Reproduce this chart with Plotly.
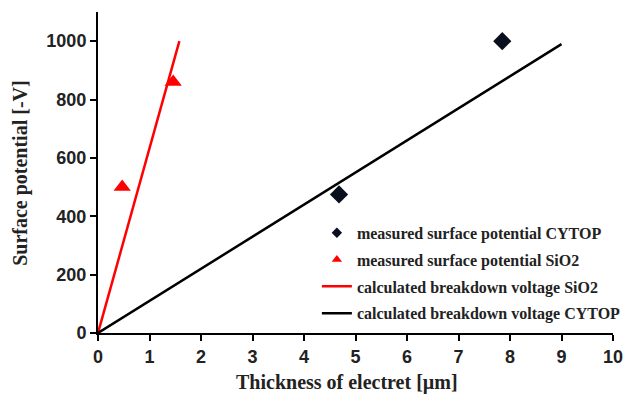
import plotly.graph_objects as go

# Measured surface potentials
cytop_thickness = [4.68, 7.85]
cytop_potential = [475, 1000]
sio2_thickness = [0.47, 1.46]
sio2_potential = [500, 860]

# Calculated breakdown voltage lines
sio2_calc_thickness = [0, 1.58]
sio2_calc_voltage = [0, 1000]
cytop_calc_thickness = [0, 9.0]
cytop_calc_voltage = [0, 990]

x_ticks = list(range(11))
y_ticks = [0, 200, 400, 600, 800, 1000]

legend_names = [
    "<b>measured surface potential CYTOP</b>",
    "<b>measured surface potential SiO2</b>",
    "<b>calculated breakdown voltage SiO2</b>",
    "<b>calculated breakdown voltage CYTOP</b>",
]

legend_font = dict(family="Liberation Serif", size=16, color="#222222")
tick_font = dict(family="Liberation Sans", size=18, color="#222222", weight="bold")
title_font = dict(family="Liberation Serif", size=20, color="#222222")

cytop_marker = dict(symbol="diamond", color="#0a0f1e")
sio2_marker = dict(symbol="triangle-up", color="#ff0000")

fig = go.Figure()
# Data traces
fig.add_trace(go.Scatter(
    x=cytop_thickness, y=cytop_potential, mode="markers", showlegend=False,
    marker=dict(size=14, **cytop_marker),
))
fig.add_trace(go.Scatter(
    x=sio2_thickness, y=sio2_potential, mode="markers", showlegend=False,
    marker=dict(size=15, **sio2_marker),
))
fig.add_trace(go.Scatter(
    x=sio2_calc_thickness, y=sio2_calc_voltage, mode="lines", showlegend=False,
    line=dict(color="#ff0000", width=2.5),
))
fig.add_trace(go.Scatter(
    x=cytop_calc_thickness, y=cytop_calc_voltage, mode="lines", showlegend=False,
    line=dict(color="#000000", width=2.5),
))

# Legend entries with small symbols
fig.add_trace(go.Scatter(x=[None], y=[None], mode="markers", name=legend_names[0],
                         legendgroup="a", marker=dict(size=8, **cytop_marker)))
fig.add_trace(go.Scatter(x=[None], y=[None], mode="markers", name=legend_names[1],
                         legendgroup="b", marker=dict(size=9, **sio2_marker)))
fig.add_trace(go.Scatter(x=[None], y=[None], mode="lines", name=legend_names[2],
                         legendgroup="c", line=dict(color="#ff0000", width=2.5)))
fig.add_trace(go.Scatter(x=[None], y=[None], mode="lines", name=legend_names[3],
                         legendgroup="d", line=dict(color="#000000", width=2.5)))

fig.update_layout(
    width=627, height=395,
    margin=dict(l=98, r=14, t=12, b=62, autoexpand=False),
    paper_bgcolor="white", plot_bgcolor="white",
    showlegend=True,
    legend=dict(x=0.425, y=0.365, xanchor="left", yanchor="top",
                bgcolor="rgba(0,0,0,0)", font=legend_font,
                traceorder="grouped", tracegroupgap=3,
                itemsizing="trace", itemwidth=30),
    xaxis=dict(
        range=[0, 10], tickmode="array", tickvals=x_ticks,
        showline=True, linecolor="black", linewidth=2,
        ticks="outside", ticklen=6, tickwidth=2, tickcolor="black",
        showgrid=False, zeroline=False, tickfont=tick_font,
    ),
    yaxis=dict(
        range=[0, 1100], tickmode="array", tickvals=y_ticks,
        showline=True, linecolor="black", linewidth=2,
        ticks="outside", ticklen=6, tickwidth=2, tickcolor="black",
        showgrid=False, zeroline=False, tickfont=tick_font,
    ),
    annotations=[
        dict(text="<b>Thickness of electret [µm]</b>", font=title_font,
             xref="paper", yref="paper", x=0.483, y=-0.153,
             xanchor="center", yanchor="middle", showarrow=False),
        dict(text="<b>Surface potential [-V]</b>", font=title_font,
             xref="paper", yref="paper", x=-0.152, y=0.498, textangle=-90,
             xanchor="center", yanchor="middle", showarrow=False),
    ],
)

fig.write_html("out.html")
